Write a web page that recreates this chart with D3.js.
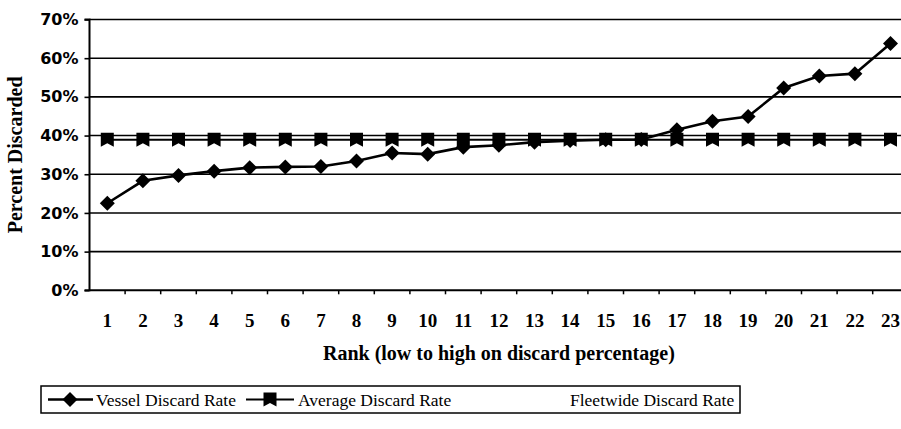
<meta charset="utf-8">
<script src="https://d3js.org/d3.v7.min.js"></script>
<style>
  body { margin: 0; background: #fff; }
</style>
<div id="my_dataviz"></div>

<script>
  const width = 901
  const height = 429

  // data
  const ranks = [1,2,3,4,5,6,7,8,9,10,11,12,13,14,15,16,17,18,19,20,21,22,23]
  const vesselRate = [22.5,28.3,29.7,30.8,31.7,31.9,32.0,33.4,35.5,35.2,37.0,37.5,38.3,38.7,38.9,39.0,41.5,43.7,44.9,52.3,55.4,56.0,63.8]
  const averageRate = [38.9,38.9,38.9,38.9,38.9,38.9,38.9,38.9,38.9,38.9,38.9,38.9,38.9,38.9,38.9,38.9,38.9,38.9,38.9,38.9,38.9,38.9,38.9]
  const fleetwideRate = [38.5,38.5,38.5,38.5,38.5,38.5,38.5,38.5,38.5,38.5,38.5,38.5,38.5,38.5,38.5,38.5,38.5,38.5,38.5,38.5,38.5,38.5,38.5]
  const yTicks = [0,10,20,30,40,50,60,70]
  const legendLabels = ["Vessel Discard Rate", "Average Discard Rate", "Fleetwide Discard Rate"]

  const plot = {left: 89.5, right: 908.3, top: 19.5, bottom: 290.3}

  var svg = d3.select("#my_dataviz")
    .append("svg")
    .attr("width", width)
    .attr("height", height)
    .style("display", "block")

  svg.append("rect").attr("width", width).attr("height", height).attr("fill", "#fff")

  var x = d3.scaleBand()
    .domain(ranks)
    .range([plot.left, plot.right])
    .padding(0)
  var y = d3.scaleLinear()
    .domain([0, 70])
    .range([plot.bottom, plot.top])

  const cx = d => x(d) + x.bandwidth() / 2

  // fleetwide series is drawn in white in the original, so it does not show
  var fleetLine = d3.line().x((d, i) => cx(ranks[i])).y(d => y(d))
  svg.append("path")
    .datum(fleetwideRate)
    .attr("d", fleetLine)
    .attr("fill", "none")
    .attr("stroke", "#fff")
    .attr("stroke-width", 1.5)

  // gridlines
  svg.append("g")
    .selectAll("line")
    .data(yTicks.filter(t => t > 0))
    .enter()
    .append("line")
    .attr("x1", plot.left)
    .attr("x2", plot.right)
    .attr("y1", d => y(d))
    .attr("y2", d => y(d))
    .attr("stroke", "#000")
    .attr("stroke-width", 1.6)

  // y axis
  const yaxis = d3.axisLeft(y).tickValues(yTicks).tickSize(5).tickFormat(d => d + "%")
  let Y = svg.append("g")
    .attr("transform", "translate(" + plot.left + ",0)")
    .call(yaxis)
  Y.select(".domain").attr("stroke", "#000").attr("stroke-width", 2).attr("d", "M-5," + plot.top + "H0V" + plot.bottom + "H-5")
  Y.selectAll(".tick line").attr("stroke-width", 1.6)
  Y.selectAll(".tick text")
    .attr("x", -11)
    .style("font-family", "DejaVu Sans")
    .style("font-weight", "bold")
    .style("font-size", "16px")
    .attr("fill", "#000")

  // x axis, ticks on band edges
  const xaxis = d3.axisBottom(x).tickSize(0).tickPadding(23)
  let X = svg.append("g")
    .attr("transform", "translate(0," + plot.bottom + ")")
    .call(xaxis)
  X.select(".domain").attr("stroke", "#000").attr("stroke-width", 2).attr("d", "M" + plot.left + ",0H" + plot.right)
  X.selectAll(".tick text")
    .style("font-family", "Liberation Serif")
    .style("font-weight", "bold")
    .style("font-size", "19px")
    .attr("fill", "#000")
  X.selectAll(".edge")
    .data(ranks)
    .enter()
    .append("line")
    .attr("x1", d => x(d) + x.bandwidth())
    .attr("x2", d => x(d) + x.bandwidth())
    .attr("y1", 0)
    .attr("y2", 4)
    .attr("stroke", "#000")
    .attr("stroke-width", 1.5)

  // average line + notched square markers
  var avgLine = d3.line().x((d, i) => cx(ranks[i])).y(d => y(d))
  svg.append("path")
    .datum(averageRate)
    .attr("d", avgLine)
    .attr("fill", "none")
    .attr("stroke", "#000")
    .attr("stroke-width", 2)

  const squarePath = "M-6.5,-7H6.5V7L0,3.5L-6.5,7Z"
  const diamondPath = "M0,-7.5L7.5,0L0,7.5L-7.5,0Z"

  // vessel line + diamonds
  var vesselLine = d3.line().x((d, i) => cx(ranks[i])).y(d => y(d))
  svg.append("path")
    .datum(vesselRate)
    .attr("d", vesselLine)
    .attr("fill", "none")
    .attr("stroke", "#000")
    .attr("stroke-width", 2.6)

  svg.selectAll(".avgpt")
    .data(averageRate)
    .enter()
    .append("path")
    .attr("d", squarePath)
    .attr("transform", (d, i) => "translate(" + cx(ranks[i]) + "," + y(d) + ")")
    .attr("fill", "#000")

  svg.selectAll(".vespt")
    .data(vesselRate)
    .enter()
    .append("path")
    .attr("d", diamondPath)
    .attr("transform", (d, i) => "translate(" + cx(ranks[i]) + "," + y(d) + ")")
    .attr("fill", "#000")

  // axis titles
  svg.append("text")
    .attr("x", (plot.left + plot.right) / 2)
    .attr("y", 360)
    .attr("text-anchor", "middle")
    .style("font-family", "Liberation Serif")
    .style("font-weight", "bold")
    .style("font-size", "20px")
    .text("Rank (low to high on discard percentage)")

  svg.append("text")
    .attr("transform", "translate(22," + ((plot.top + plot.bottom) / 2) + ") rotate(-90)")
    .attr("text-anchor", "middle")
    .style("font-family", "Liberation Serif")
    .style("font-weight", "bold")
    .style("font-size", "20px")
    .text("Percent Discarded")

  // legend
  let L = svg.append("g")
  L.append("rect")
    .attr("x", 41).attr("y", 386)
    .attr("width", 699).attr("height", 27)
    .attr("fill", "none").attr("stroke", "#000").attr("stroke-width", 1.5)

  const legY = 399.5
  L.append("line").attr("x1", 48).attr("x2", 93).attr("y1", legY).attr("y2", legY).attr("stroke", "#000").attr("stroke-width", 2.6)
  L.append("path").attr("d", diamondPath).attr("transform", "translate(70," + legY + ")")
  L.append("line").attr("x1", 246).attr("x2", 294).attr("y1", legY).attr("y2", legY).attr("stroke", "#000").attr("stroke-width", 2)
  L.append("path").attr("d", squarePath).attr("transform", "translate(270," + legY + ")")

  const legX = [96, 298, 570]
  L.selectAll(".lt")
    .data(legendLabels)
    .enter()
    .append("text")
    .attr("x", (d, i) => legX[i])
    .attr("y", legY + 6)
    .style("font-family", "Liberation Serif")
    .style("font-size", "17.5px")
    .text(d => d)
</script>
